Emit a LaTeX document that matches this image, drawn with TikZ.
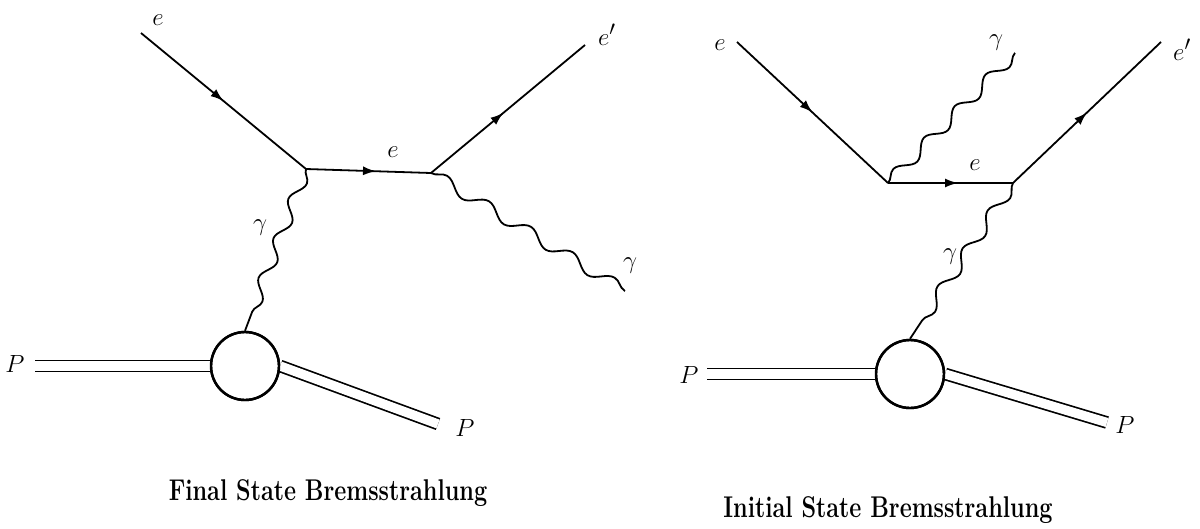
\documentclass[tikz,border=0pt]{standalone}
\usepackage{graphicx}
\usetikzlibrary{decorations.pathmorphing,decorations.markings,arrows.meta}
\begin{document}
\begin{tikzpicture}[x=1pt,y=-1pt,
  fermion/.style={line width=1.8pt,postaction={decorate},
    decoration={markings,mark=at position #1 with {\arrow{Latex[length=13pt,width=9pt]}}}},
  photon/.style={line width=1.8pt,decorate,decoration={snake,amplitude=6pt,segment length=#1}},
  proton/.style={line width=1.7pt,double,double distance=9.3pt},
  blobnode/.style={circle,draw,line width=2.4pt,minimum size=68pt,inner sep=0pt,fill=white},
  blobline/.style={line width=2.4pt},
  lbl/.style={inner sep=0pt,font=\fontsize{29}{33}\selectfont},
  capt/.style={inner sep=0pt}
]
\useasboundingbox (0,0) rectangle (1200,528);
% ---------- Final state ----------
\coordinate (eL) at (141,33);
\coordinate (A) at (306,169);
\coordinate (B) at (431,173);
\coordinate (epL) at (585,45);
\coordinate (gL) at (625,291);
\coordinate (pinL) at (35,366);
\coordinate (poutL) at (438,424);
\node[blobnode] (b1) at (245,366) {};
\draw[proton] (pinL) -- (b1.west);
\draw[proton] (b1.east) -- (poutL);
\draw[blobline] (b1.center) circle[radius=34pt];
\draw[fermion=0.5] (eL) -- (A);
\draw[fermion=0.56] (A) -- (B);
\draw[fermion=0.47] (B) -- (epL);
\draw[photon=49.0pt] (B) -- (gL);
\draw[photon=42.1pt] (A) -- (b1.north);
\node[lbl] (le1) at (158,20) {$e$};
\node[lbl] (le2) at (393,152) {$e$};
\node[lbl,anchor=base west] (le3) at (598,45) {$e'$};
\node[lbl] (lg1) at (630,266) {$\gamma$};
\node[lbl] (lg2) at (260,228) {$\gamma$};
\node[lbl] (lp1) at (15,364) {$P$};
\node[lbl] (lp2) at (465,428) {$P$};
\node[capt] (cap1) at (328,493) {\scalebox{0.78}[1]{\fontsize{30}{36}\selectfont\bfseries Final State Bremsstrahlung}};
% ---------- Initial state ----------
\coordinate (eR) at (737,42);
\coordinate (C) at (888,183);
\coordinate (D) at (1013,183);
\coordinate (epR) at (1161,42);
\coordinate (gR) at (1015,53);
\coordinate (pinR) at (707,374);
\coordinate (poutR) at (1107,422.5);
\node[blobnode] (b2) at (910,374) {};
\draw[proton] (pinR) -- (b2.west);
\draw[proton] (b2.east) -- (poutR);
\draw[blobline] (b2.center) circle[radius=34pt];
\draw[fermion=0.5] (eR) -- (C);
\draw[fermion=0.56] (C) -- (D);
\draw[fermion=0.5] (D) -- (epR);
\draw[photon=44.0pt] (C) -- (gR);
\draw[photon=45.4pt] (D) -- (b2.north);
\node[lbl] (re1) at (720,45) {$e$};
\node[lbl] (re2) at (975,165) {$e$};
\node[lbl,anchor=base west] (re3) at (1173,60) {$e'$};
\node[lbl] (rg1) at (996,43) {$\gamma$};
\node[lbl] (rg2) at (950,257) {$\gamma$};
\node[lbl] (rp1) at (689,375) {$P$};
\node[lbl] (rp2) at (1125,425) {$P$};
\node[capt] (cap2) at (888,510) {\scalebox{0.78}[1]{\fontsize{30}{36}\selectfont\bfseries Initial State Bremsstrahlung}};
\end{tikzpicture}
\end{document}
